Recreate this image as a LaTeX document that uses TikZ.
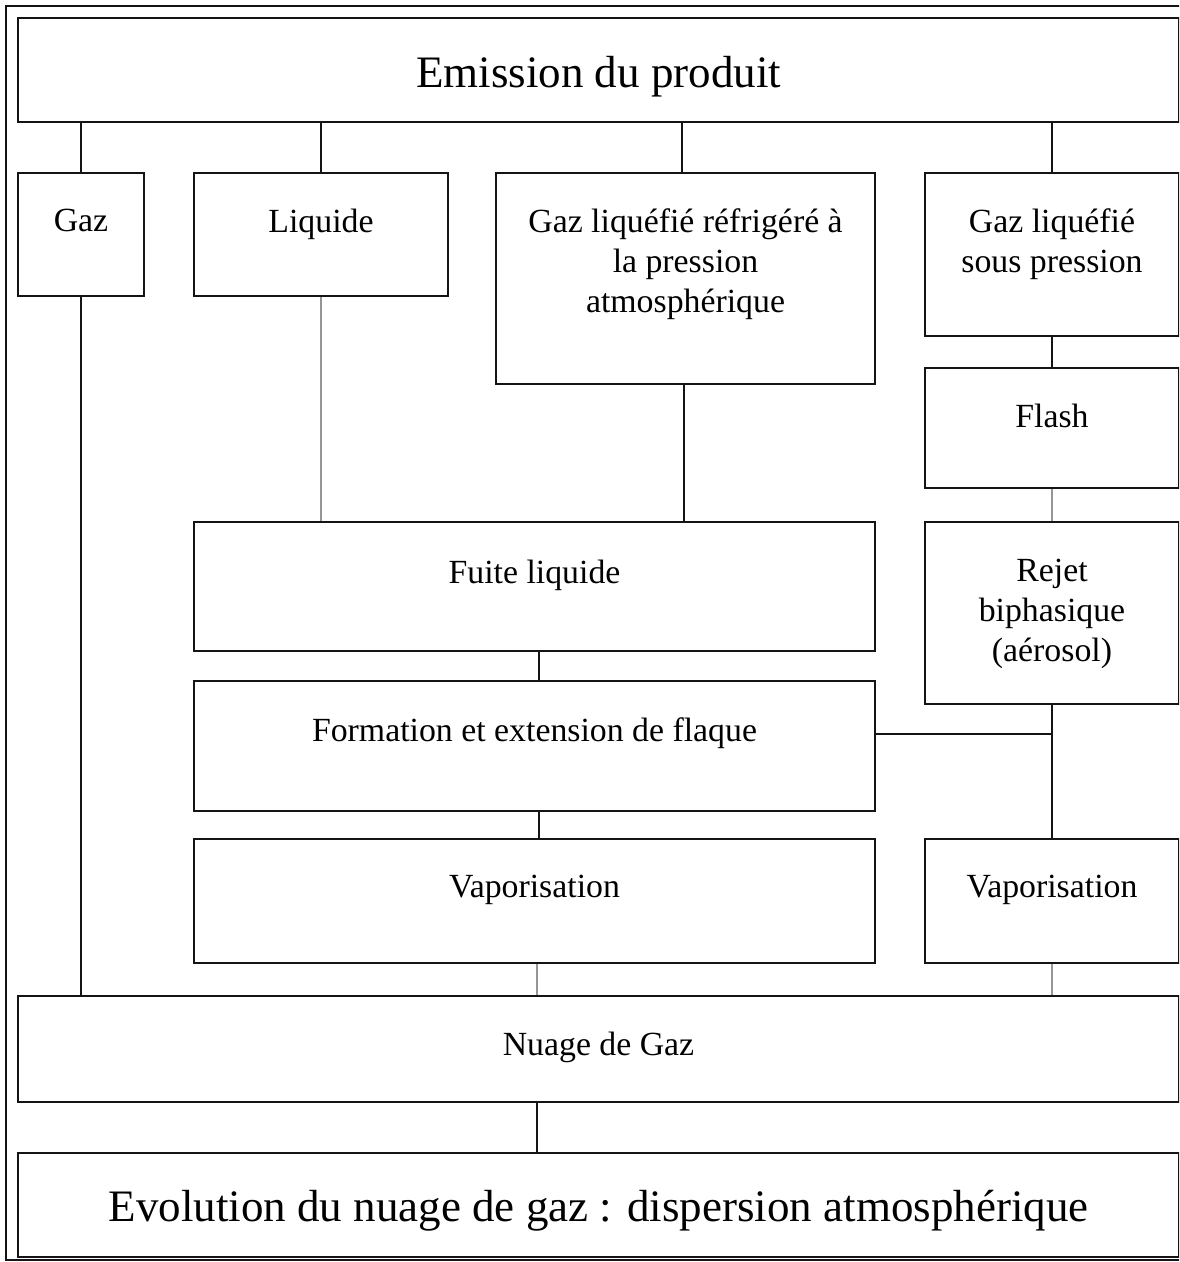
\documentclass[tikz,border=0pt]{standalone}
\usepackage{fontspec}
\setmainfont{Liberation Serif}
\definecolor{trait}{RGB}{20, 20, 20}
\definecolor{traitgris}{RGB}{150, 150, 150}
\usepackage{tikz}
\usetikzlibrary{positioning, calc}

\begin{document}
\begin{tikzpicture}[x=0.5pt, y=-0.5pt,
  boite/.style 2 args={draw=trait, line width=1pt, anchor=north west, inner sep=0pt,
    minimum width=#1*0.5pt, minimum height=#2*0.5pt},
  texte/.style={align=center, inner sep=0pt, font=\fontsize{16.9}{20}\selectfont},
  grandtexte/.style={align=center, inner sep=0pt, font=\fontsize{22.5}{26}\selectfont},
  lien/.style={draw=trait, line width=1pt},
  liengris/.style={draw=traitgris, line width=1pt}]
  \useasboundingbox (0,0) rectangle (1179,1262);
  \clip (0,0) rectangle (1179,1262);

  % Cadre
  \draw[line width=1pt, trait] (6,6) rectangle (1200,1260);

  % Boites
  \node[boite={1161}{104}] (emis) at (17,17) {};
  \node[boite={126}{123}] (gaz) at (17,172) {};
  \node[boite={254}{123}] (liq) at (193,172) {};
  \node[boite={379}{211}] (refr) at (495,172) {};
  \node[boite={254}{163}] (spres) at (924,172) {};
  \node[boite={254}{120}] (flash) at (924,367) {};
  \node[boite={681}{129}] (fuite) at (193,521) {};
  \node[boite={254}{182}] (rejet) at (924,521) {};
  \node[boite={681}{130}] (flaque) at (193,680) {};
  \node[boite={681}{124}] (vapg) at (193,838) {};
  \node[boite={254}{124}] (vapd) at (924,838) {};
  \node[boite={1161}{106}] (nuage) at (17,995) {};
  \node[boite={1161}{104}] (evol) at (17,1152) {};

  % Textes
  \node[grandtexte, below=19.5pt of emis.north] (emisT) {Emission du produit};
  \node[texte, below=18.5pt of gaz.north] (gazT) {Gaz};
  \node[texte, below=18.5pt of liq.north] (liqT) {Liquide};
  \node[texte, below=18pt of refr.north] (refrT) {Gaz liquéfié réfrigéré à\\la pression\\atmosphérique};
  \node[texte, below=18pt of spres.north] (spresT) {Gaz liquéfié\\sous pression};
  \node[texte, below=18.5pt of flash.north] (flashT) {Flash};
  \node[texte, below=19.5pt of fuite.north] (fuiteT) {Fuite liquide};
  \node[texte, below=19pt of rejet.north] (rejetT) {Rejet\\biphasique\\(aérosol)};
  \node[texte, below=18.5pt of flaque.north] (flaqueT) {Formation et extension de flaque};
  \node[texte, below=18.5pt of vapg.north] (vapgT) {Vaporisation};
  \node[texte, below=18.5pt of vapd.north] (vapdT) {Vaporisation};
  \node[texte, below=18.5pt of nuage.north] (nuageT) {Nuage de Gaz};
  \node[grandtexte, below=19pt of evol.north] (evolT) {Evolution du nuage de gaz : dispersion atmosphérique};

  % Liens
  \draw[lien] (gaz.north) -- (gaz.north |- emis.south);
  \draw[lien] (liq.north) -- (liq.north |- emis.south);
  \draw[lien] ([xshift=-2pt]refr.north) -- ([xshift=-2pt]refr.north |- emis.south);
  \draw[lien] (spres.north) -- (spres.north |- emis.south);
  \draw[lien] (gaz.south) -- (gaz.south |- nuage.north);
  \draw[liengris] (liq.south) -- (liq.south |- fuite.north);
  \draw[lien] ([xshift=-1pt]refr.south) -- ([xshift=-1pt]refr.south |- fuite.north);
  \draw[lien] (spres.south) -- (flash.north);
  \draw[liengris] (flash.south) -- (rejet.north);
  \draw[lien] (rejet.south) -- (vapd.north);
  \draw[lien] ([yshift=6pt]flaque.east) -- ([yshift=6pt]flaque.east -| rejet.south);
  \draw[lien] ([xshift=2pt]fuite.south) -- ([xshift=2pt]flaque.north);
  \draw[lien] ([xshift=2pt]flaque.south) -- ([xshift=2pt]vapg.north);
  \draw[liengris] ([xshift=1pt]vapg.south) -- ([xshift=1pt]vapg.south |- nuage.north);
  \draw[liengris] (vapd.south) -- (vapd.south |- nuage.north);
  \draw[lien] ([xshift=1pt]vapg.south |- nuage.south) -- ([xshift=1pt]vapg.south |- evol.north);
\end{tikzpicture}
\end{document}
